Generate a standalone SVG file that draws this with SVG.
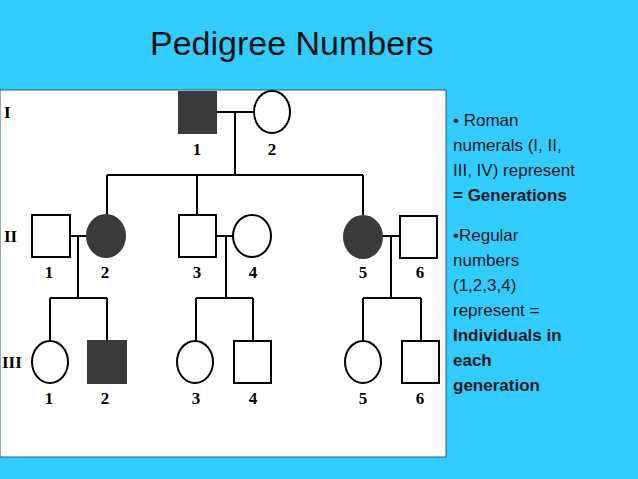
<svg xmlns="http://www.w3.org/2000/svg" width="638" height="479" viewBox="0 0 638 479">
<style>
.s{fill:#fff;stroke:#000;stroke-width:2}
.f{fill:#3a3a3a;stroke:#3a3a3a;stroke-width:2}
.l{stroke:#000;stroke-width:2;fill:none}
.n{font-family:"Liberation Serif",serif;font-weight:bold;font-size:17px;text-anchor:middle;fill:#000}
.r{font-family:"Liberation Serif",serif;font-weight:bold;font-size:17px;fill:#000}
.t{font-family:"Liberation Sans",Arial,sans-serif;font-size:17px;fill:#1a1a1a}
</style>
<rect width="638" height="479" fill="#33ccff"/>
<rect x="0" y="90" width="446" height="367" fill="#fff" stroke="#2a5a70" stroke-width="1"/>
<text x="150" y="55" font-family="Liberation Sans,Arial,sans-serif" font-size="34" fill="#111">Pedigree Numbers</text>
<text class="r" x="4" y="118">I</text>
<text class="r" x="4" y="242">II</text>
<text class="r" x="2" y="368">III</text>
<g id="connectors">
<path class="l" d="M216 112H253M235 112V175M107 175H363M107 175V215M197 175V215M363 175V215"/>
<path class="l" d="M70 236H87M78 236V298M50 298H107M50 298V341M107 298V341"/>
<path class="l" d="M216 236H233M226 236V298M196 298H253M196 298V341M253 298V341"/>
<path class="l" d="M382 236H400M391 236V298M363 298H421M363 298V341M421 298V341"/>
</g>
<g id="I-1"><rect class="f" x="179" y="92" width="37" height="41"/><text class="n" x="197" y="155">1</text></g>
<g id="I-2"><ellipse class="s" cx="272" cy="112" rx="18" ry="21"/><text class="n" x="272" y="155">2</text></g>
<g id="II-1"><rect class="s" x="32" y="215" width="38" height="42"/><text class="n" x="49" y="278">1</text></g>
<g id="II-2"><ellipse class="f" cx="106" cy="236" rx="19" ry="21"/><text class="n" x="105" y="278">2</text></g>
<g id="II-3"><rect class="s" x="179" y="215" width="37" height="42"/><text class="n" x="197" y="278">3</text></g>
<g id="II-4"><ellipse class="s" cx="252" cy="236" rx="19" ry="21"/><text class="n" x="253" y="278">4</text></g>
<g id="II-5"><ellipse class="f" cx="363" cy="237" rx="19" ry="21"/><text class="n" x="363" y="278">5</text></g>
<g id="II-6"><rect class="s" x="400" y="216" width="37" height="42"/><text class="n" x="420" y="278">6</text></g>
<g id="III-1"><ellipse class="s" cx="50" cy="362" rx="18" ry="21"/><text class="n" x="49" y="404">1</text></g>
<g id="III-2"><rect class="f" x="88" y="341" width="38" height="42"/><text class="n" x="105" y="404">2</text></g>
<g id="III-3"><ellipse class="s" cx="195" cy="362" rx="18" ry="21"/><text class="n" x="196" y="404">3</text></g>
<g id="III-4"><rect class="s" x="234" y="341" width="37" height="42"/><text class="n" x="253" y="404">4</text></g>
<g id="III-5"><ellipse class="s" cx="363" cy="362" rx="18" ry="21"/><text class="n" x="363" y="404">5</text></g>
<g id="III-6"><rect class="s" x="402" y="341" width="37" height="42"/><text class="n" x="420" y="404">6</text></g>
<text class="t" x="453" y="126">• Roman</text>
<text class="t" x="453" y="151">numerals (I, II,</text>
<text class="t" x="453" y="176">III, IV) represent</text>
<text class="t" x="453" y="201" font-weight="bold">= Generations</text>
<text class="t" x="453" y="241">•Regular</text>
<text class="t" x="453" y="266">numbers</text>
<text class="t" x="453" y="291">(1,2,3,4)</text>
<text class="t" x="453" y="316">represent =</text>
<text class="t" x="453" y="341" font-weight="bold">Individuals in</text>
<text class="t" x="453" y="366" font-weight="bold">each</text>
<text class="t" x="453" y="391" font-weight="bold">generation</text>
</svg>
